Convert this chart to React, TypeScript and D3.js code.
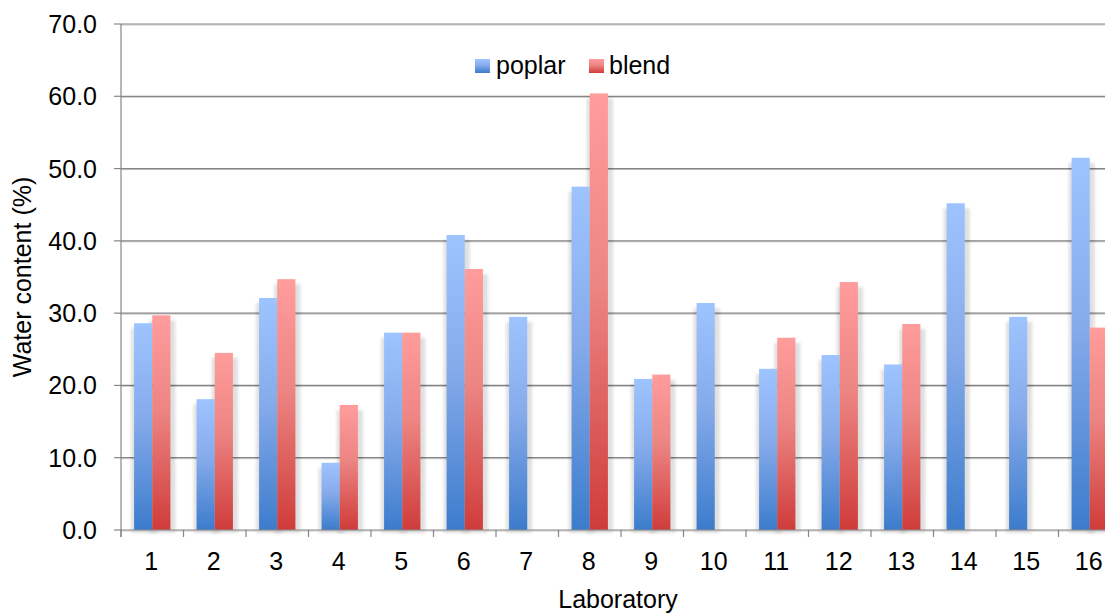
import React from "react";
import { scaleBand, scaleLinear, range } from "d3";

const labs = ["1", "2", "3", "4", "5", "6", "7", "8", "9", "10", "11", "12", "13", "14", "15", "16"];
const poplar = [28.6, 18.1, 32.1, 9.3, 27.3, 40.8, 29.5, 47.5, 20.9, 31.4, 22.3, 24.2, 22.9, 45.2, 29.5, 51.5];
const blend: (number | null)[] = [29.7, 24.5, 34.7, 17.3, 27.3, 36.1, null, 60.4, 21.5, null, 26.6, 34.3, 28.5, null, null, 28.0];
const yTicks = [0, 10, 20, 30, 40, 50, 60, 70];
const seriesNames = ["poplar", "blend"];

const W = 1105;
const H = 613;
const left = 121;
const top = 24;
const bottom = 530;
const right = left + 62.5 * 16;
const font = "'Liberation Sans', Arial, sans-serif";
const fs = 25;

export default function App() {
  const x = scaleBand<string>().domain(labs).range([left, right]).paddingInner(0).paddingOuter(0);
  const inner = scaleBand<string>()
    .domain(seriesNames)
    .range([0, x.bandwidth()])
    .paddingOuter(0.72)
    .paddingInner(0);
  const y = scaleLinear().domain([0, 70]).range([bottom, top]);

  const bars: { key: string; s: string; v: number; x: number }[] = [];
  labs.forEach((l, i) => {
    bars.push({ key: "p" + i, s: "poplar", v: poplar[i], x: x(l)! + inner("poplar")! });
    const b = blend[i];
    if (b != null) bars.push({ key: "b" + i, s: "blend", v: b, x: x(l)! + inner("blend")! });
  });
  const bw = inner.bandwidth();

  return (
    <svg
      width={W}
      height={H}
      style={{ position: "absolute", left: 0, top: 0, display: "block", background: "#fff" }}
      fontFamily={font}
    >
      <defs>
        <linearGradient id="gPoplar" x1="0" y1="0" x2="0" y2="1">
          <stop offset="0" stopColor="#9ec4ff" />
          <stop offset="0.45" stopColor="#86abeb" />
          <stop offset="1" stopColor="#3c7ccc" />
        </linearGradient>
        <linearGradient id="gBlend" x1="0" y1="0" x2="0" y2="1">
          <stop offset="0" stopColor="#ff9c9c" />
          <stop offset="0.45" stopColor="#ec8482" />
          <stop offset="1" stopColor="#cf3c3a" />
        </linearGradient>
        <filter id="shadow" x="-50%" y="-10%" width="200%" height="120%">
          <feGaussianBlur stdDeviation="1.5" />
        </filter>
      </defs>

      {/* gridlines */}
      {yTicks.slice(1).map((t) => (
        <g key={"g" + t}>
          <line x1={left} x2={W} y1={y(t) + 1} y2={y(t) + 1} stroke="#c9c9c9" strokeWidth={1} />
          <line x1={left} x2={W} y1={y(t)} y2={y(t)} stroke="#858585" strokeWidth={1.2} />
        </g>
      ))}

      {/* bar shadows */}
      {bars.map((b) => (
        <rect
          key={"s" + b.key}
          x={b.x - 3}
          y={y(b.v) + 5}
          width={bw + 8}
          height={bottom - y(b.v) - 2}
          fill="#000"
          opacity={0.12}
          filter="url(#shadow)"
        />
      ))}

      {/* bars */}
      {bars.map((b) => (
        <rect
          key={b.key}
          x={b.x}
          y={y(b.v)}
          width={bw}
          height={bottom - y(b.v)}
          fill={b.s === "poplar" ? "url(#gPoplar)" : "url(#gBlend)"}
        />
      ))}

      {/* axes */}
      <line x1={left} x2={W} y1={bottom + 1} y2={bottom + 1} stroke="#c9c9c9" />
      <line x1={left} x2={W} y1={bottom} y2={bottom} stroke="#858585" strokeWidth={1.2} />
      <line x1={left} x2={left} y1={top} y2={bottom + 7} stroke="#858585" strokeWidth={1.2} />
      {yTicks.map((t) => (
        <g key={"yt" + t}>
          <line x1={left - 7} x2={left} y1={y(t)} y2={y(t)} stroke="#858585" strokeWidth={1.2} />
          <text x={97} y={y(t) + 9} textAnchor="end" fontSize={fs} fill="#000">
            {t.toFixed(1)}
          </text>
        </g>
      ))}
      {range(labs.length + 1).map((i) => (
        <line
          key={"xt" + i}
          x1={left + i * x.step()}
          x2={left + i * x.step()}
          y1={bottom}
          y2={bottom + 7}
          stroke="#858585"
          strokeWidth={1.2}
        />
      ))}
      {labs.map((l) => (
        <text key={"xl" + l} x={x(l)! + x.bandwidth() / 2 - 1} y={570} textAnchor="middle" fontSize={fs} fill="#000">
          {l}
        </text>
      ))}

      <text x={618} y={608} textAnchor="middle" fontSize={fs} fill="#000">
        Laboratory
      </text>
      <text
        transform={`translate(31,${(top + bottom) / 2}) rotate(-90)`}
        textAnchor="middle"
        fontSize={fs}
        fill="#000"
      >
        Water content (%)
      </text>

      {/* legend */}
      <g>
        <rect x={475} y={59} width={15} height={14} fill="url(#gPoplar)" />
        <text x={496} y={74} fontSize={fs} fill="#000">poplar</text>
        <rect x={589} y={59} width={15} height={14} fill="url(#gBlend)" />
        <text x={609} y={74} fontSize={fs} fill="#000">blend</text>
      </g>
    </svg>
  );
}
